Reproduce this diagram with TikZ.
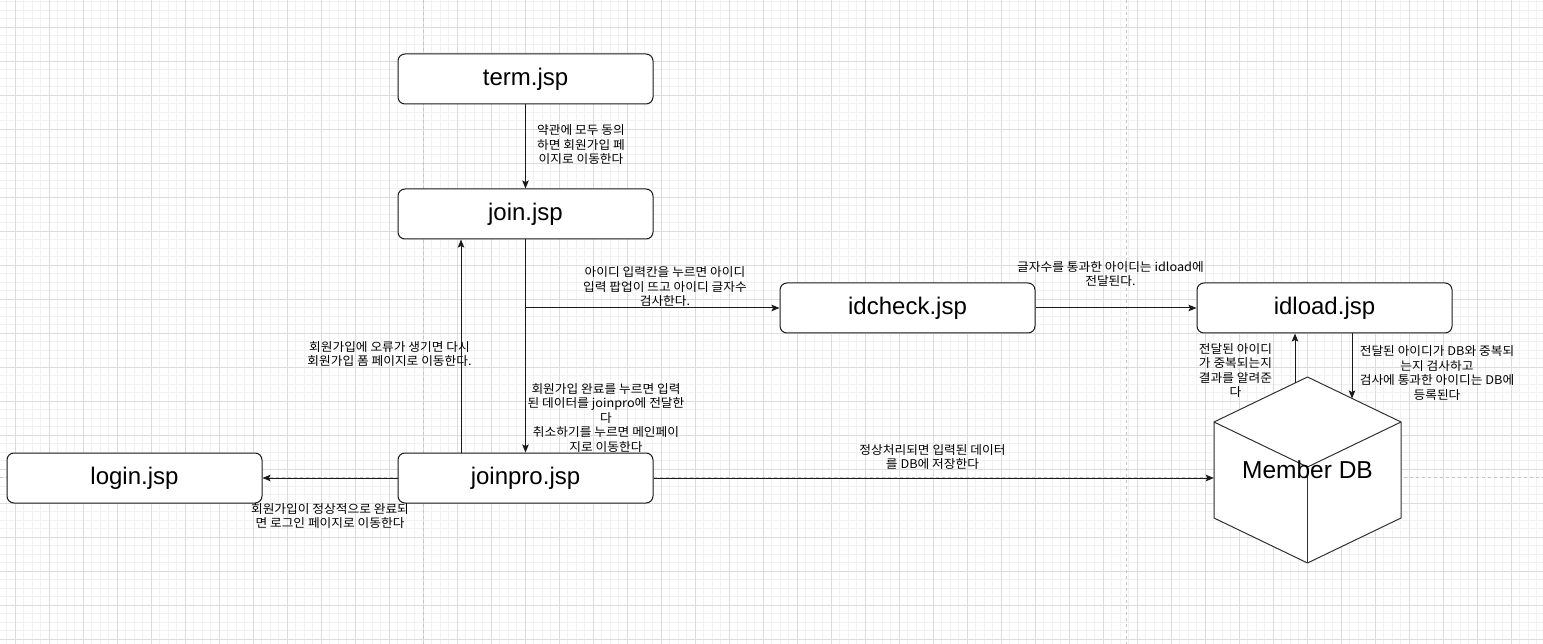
\documentclass[tikz,border=0pt]{standalone}
\usepackage{fontspec}
\setmainfont{Liberation Sans}
\newfontfamily\kr[FakeStretch=1.06]{Noto Sans CJK KR}
\usetikzlibrary{arrows.meta}
\definecolor{gminor}{HTML}{F1F1F1}
\definecolor{gmajor}{HTML}{DCDCDC}
\definecolor{pageln}{HTML}{C4C4C4}
\definecolor{ink}{HTML}{1A1A1A}
\begin{document}
\begin{tikzpicture}[x=1pt,y=-1pt,
  box/.style={draw=ink, line width=1pt, rounded corners=7pt, fill=white,
    minimum width=255pt, minimum height=50pt, inner sep=0pt,
    font=\fontsize{24}{28}\selectfont},
  lbl/.style={font=\kr\fontsize{12}{14.5}\selectfont, align=center, inner sep=0pt},
  arr/.style={draw=ink, line width=1pt, -{Stealth[length=8pt,width=6.5pt,inset=1.5pt]}},
  minorln/.style={draw=gminor, line width=1pt},
  majorln/.style={draw=gmajor, line width=1pt},
  pageline/.style={draw=pageln, line width=1pt, dash pattern=on 3pt off 3pt},
]
\fill[white] (0,0) rectangle (1543,644);
\useasboundingbox (0,0) rectangle (1543,644);
% grid
\foreach \i in {0,...,182} \draw[minorln] ({6.5+8.5*\i},0) -- ++(0,644);
\foreach \i in {0,...,76} \draw[minorln] (0,{1.8+8.5*\i}) -- ++(1543,0);
\foreach \i in {0,...,45} \draw[majorln] ({15+34*\i},0) -- ++(0,644);
\foreach \i in {0,...,18} \draw[majorln] (0,{27.3+34*\i}) -- ++(1543,0);
% page breaks
\draw[pageline] (423,0) -- (423,644);
\draw[pageline] (1126,0) -- (1126,644);
\draw[pageline] (0,477) -- (1543,477);

% nodes
\node[box] (term) at (525.5,79) {term.jsp};
\node[box] (join) at (525.5,214) {join.jsp};
\node[box] (idcheck) at (907.5,308) {idcheck.jsp};
\node[box] (idload) at (1324.5,308) {idload.jsp};
\node[box] (login) at (134.5,478) {login.jsp};
\node[box] (joinpro) at (525.5,478) {joinpro.jsp};

% cube
\begin{scope}[draw=ink!90, line width=1pt, line join=round]
\coordinate (ct) at (1307.5,377);
\coordinate (clt) at (1214,422);
\coordinate (crt) at (1401,422);
\coordinate (cm) at (1307.5,467);
\coordinate (clb) at (1214,518);
\coordinate (crb) at (1401,518);
\coordinate (cb) at (1307.5,563);
\filldraw[fill=white] (ct) -- (crt) -- (crb) -- (cb) -- (clb) -- (clt) -- cycle;
\draw (clt) -- (cm) -- (crt);
\draw (cm) -- (cb);
\end{scope}
\node[minimum width=187pt, minimum height=186pt, inner sep=0pt,
  font=\fontsize{24.5}{28}\selectfont] (db) at (1307.5,470) {Member DB};

% connectors
\draw[arr] (term) -- (join);
\draw[arr] (join) -- (joinpro);
\draw[arr] (join.south) |- (idcheck.west);
\draw[arr] (idcheck) -- (idload);
\coordinate (dbin) at (1352,398.5);
\draw[arr] (idload.south -| dbin) -- (dbin);
\coordinate (dbout) at (1295,382.8);
\draw[arr] (dbout) -- (dbout |- idload.south);
\draw[arr] ([xshift=-64.5pt]joinpro.north) -- ([xshift=-64.5pt]join.south);
\draw[arr] (joinpro) -- (login);
\draw[arr] (joinpro.east) -- (joinpro.east -| db.west);

% labels
\node[lbl] (l1) at (581,145) {약관에 모두 동의\\하면 회원가입 페\\이지로 이동한다};
\node[lbl] (l2) at (665,287) {아이디 입력칸을 누르면 아이디\\입력 팝업이 뜨고 아이디 글자수\\검사한다.};
\node[lbl] (l3) at (1110.5,274) {글자수를 통과한 아이디는 idload에\\전달된다.};
\node[lbl] (l4) at (389.5,354) {회원가입에 오류가 생기면 다시\\회원가입 폼 페이지로 이동한다.};
\node[lbl] (l5) at (606,418) {회원가입 완료를 누르면 입력\\된 데이터를 joinpro에 전달한\\다\\취소하기를 누르면 메인페이\\지로 이동한다};
\node[lbl] (l6) at (1235.5,370.5) {전달된 아이디\\가 중복되는지\\결과를 알려준\\다};
\node[lbl] (l7) at (1437,373) {전달된 아이디가 DB와 중복되\\는지 검사하고\\검사에 통과한 아이디는 DB에\\등록된다};
\node[lbl] (l8) at (932.5,457) {정상처리되면 입력된 데이터\\를 DB에 저장한다};
\node[lbl] (l9) at (330,516) {회원가입이 정상적으로 완료되\\면 로그인 페이지로 이동한다};
\end{tikzpicture}
\end{document}
